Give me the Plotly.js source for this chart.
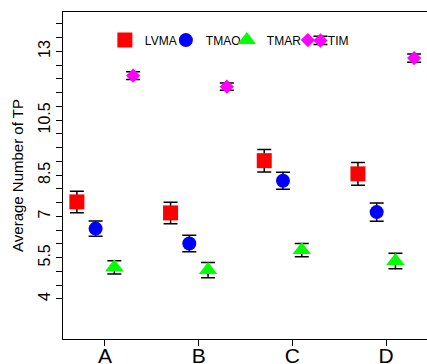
<!DOCTYPE html>
<html>
<head>
<meta charset="utf-8">
<script src="https://cdn.plot.ly/plotly-3.0.1.min.js"></script>
<style>
html,body{margin:0;padding:0;background:#fff;overflow:hidden;}
#chart{width:427px;height:364px;}
</style>
</head>
<body>
<div id="chart"></div>
<script>
// ---- data ----
const categories = ['A', 'B', 'C', 'D'];
const seriesNames = ['LVMA', 'TMAO', 'TMAR', 'TIMA'];
const lvma = [7.53, 7.13, 9.03, 8.55];
const lvmaErr = [0.39, 0.39, 0.41, 0.41];
const tmao = [6.56, 6.02, 8.30, 7.16];
const tmaoErr = [0.28, 0.30, 0.31, 0.33];
const tmar = [5.15, 5.05, 5.78, 5.38];
const tmarErr = [0.24, 0.28, 0.24, 0.28];
const tima = [12.12, 11.72, 13.40, 12.76];
const timaErr = [0.14, 0.13, 0.15, 0.15];
const yTickLabels = ['4', '5.5', '7', '8.5', '10.5', '13'];

// ---- styling ----
const values = [lvma, tmao, tmar, tima];
const errs = [lvmaErr, tmaoErr, tmarErr, timaErr];
const colors = ['#ff0000', '#0000ff', '#00ff00', '#ff00ff'];
const symbols = ['square', 'circle', 'triangle-up', 'diamond'];
const sizes = [15, 14, 16, 11];
const offsets = [-0.3, -0.1, 0.1, 0.3];

const traces = seriesNames.map((name, s) => ({
  type: 'scatter',
  mode: 'markers',
  name: name,
  x: categories.map((c, i) => i + 1 + offsets[s]),
  y: values[s],
  marker: {color: colors[s], symbol: symbols[s], size: sizes[s], line: {width: 0}},
  error_y: {type: 'data', array: errs[s], visible: true, color: '#000', thickness: 1.5, width: 7},
  hoverinfo: 'x+y'
}));

const tickvals = [];
const ticktext = [];
for (let v = 4; v <= 14.001; v += 0.5) {
  tickvals.push(v);
  const lab = yTickLabels.find(t => Math.abs(parseFloat(t) - v) < 1e-6);
  ticktext.push(lab ? lab : '');
}

const layout = {
  width: 427, height: 364,
  margin: {l: 63, r: 0, t: 12, b: 25},
  paper_bgcolor: '#fff', plot_bgcolor: '#fff',
  font: {family: 'Liberation Sans, Arial, sans-serif', color: '#000'},
  showlegend: true,
  legend: {
    orientation: 'h', x: 0.115, y: 0.914, xanchor: 'left', yanchor: 'middle',
    bgcolor: 'rgba(0,0,0,0)', borderwidth: 0,
    font: {size: 12, color: '#000'},
    entrywidth: 16, entrywidthmode: 'pixels', itemclick: false
  },
  xaxis: {
    range: [0.552, 4.437],
    tickvals: categories.map((c, i) => i + 1),
    ticktext: categories,
    showgrid: false, zeroline: false,
    showline: true, linecolor: '#000', linewidth: 1, mirror: true,
    ticks: 'outside', ticklen: 6, tickcolor: '#000', tickwidth: 1,
    ticklabelstandoff: -8,
    tickfont: {size: 21, color: '#000'}
  },
  yaxis: {
    range: [2.545, 14.436],
    tickvals: tickvals, ticktext: ticktext,
    tickangle: -90,
    showgrid: false, zeroline: false,
    showline: true, linecolor: '#000', linewidth: 1, mirror: false,
    ticks: 'outside', ticklen: 6, tickcolor: '#000', tickwidth: 1,
    tickfont: {size: 16, color: '#000'},
    title: {text: 'Average Number of TP', font: {size: 15, color: '#000'}, standoff: 8}
  }
};

Plotly.newPlot('chart', traces, layout, {displayModeBar: false, staticPlot: true});
</script>
</body>
</html>
